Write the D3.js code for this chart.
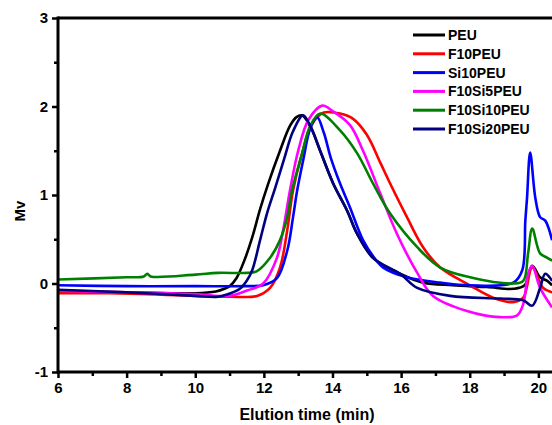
<!DOCTYPE html>
<html>
<head>
<meta charset="utf-8">
<script src="https://cdn.jsdelivr.net/npm/d3@7"></script>
<style>
  body { margin: 0; background: #fff; }
  svg { display: block; font-family: "Liberation Sans", Arial, sans-serif; }
</style>
</head>
<body>
<script>
// GPC traces as [elution time (min), Mv]
var peu = [[6,-0.09],[8,-0.1],[10,-0.11],[10.6,-0.09],[10.85,-0.06],[11.0,-0.03],[11.2,0.06],[11.45,0.28],[11.66,0.52],[11.89,0.84],[12.12,1.12],[12.47,1.5],[12.76,1.78],[12.95,1.88],[13.11,1.9],[13.35,1.78],[13.64,1.5],[14.02,1.13],[14.43,0.82],[14.72,0.56],[15.18,0.29],[15.97,0.11],[16.64,0.01],[17.5,-0.02],[18.5,-0.04],[19.27,-0.06],[19.6,-0.02],[19.82,0.2],[20.05,0.07],[20.26,0.03],[20.4,-0.02]];
var f10peu = [[6,-0.11],[7.5,-0.11],[10,-0.14],[11.01,-0.15],[11.8,-0.14],[12.18,-0.05],[12.47,0.18],[12.68,0.6],[12.85,1.05],[13.1,1.45],[13.4,1.8],[13.73,1.93],[14.22,1.92],[14.6,1.86],[15.0,1.68],[15.4,1.36],[15.68,1.13],[16.17,0.75],[16.64,0.41],[17.14,0.18],[18,-0.02],[18.68,-0.16],[19.27,-0.21],[19.56,-0.16],[19.82,0.18],[20.14,-0.05],[20.4,-0.1]];
var si10peu = [[6,-0.02],[8,-0.03],[10,-0.03],[11.5,-0.03],[11.98,-0.02],[12.38,0.06],[12.68,0.37],[12.85,0.75],[12.97,1.05],[13.15,1.4],[13.35,1.75],[13.55,1.88],[13.75,1.7],[13.95,1.42],[14.2,1.15],[14.51,0.86],[14.89,0.49],[15.2,0.3],[15.48,0.18],[16.17,0.07],[17.14,0.01],[18.01,-0.02],[19.27,0.01],[19.53,0.15],[19.62,0.71],[19.67,0.97],[19.76,1.48],[19.91,0.97],[20.05,0.75],[20.2,0.71],[20.4,0.49]];
var f10si5peu = [[6,-0.08],[8,-0.1],[10,-0.12],[11,-0.14],[11.51,-0.08],[11.98,0],[12.38,0.29],[12.56,0.6],[12.76,1.05],[13,1.5],[13.3,1.85],[13.7,2.01],[14,1.95],[14.51,1.79],[14.89,1.5],[15.39,1.02],[15.88,0.56],[16.47,0.12],[16.93,-0.14],[17.92,-0.31],[18.89,-0.38],[19.38,-0.36],[19.56,-0.23],[19.7,0.11],[19.82,0.2],[20.05,-0.05],[20.4,-0.27]];
var f10si10peu = [[6,0.045],[8,0.07],[8.5,0.08],[8.6,0.11],[8.7,0.08],[10,0.1],[10.66,0.12],[11.5,0.12],[11.8,0.14],[12.18,0.29],[12.47,0.49],[12.68,0.75],[12.82,1.05],[13.1,1.45],[13.35,1.78],[13.64,1.92],[14.22,1.73],[14.72,1.47],[15.18,1.13],[15.68,0.79],[16.47,0.41],[17.14,0.18],[18.01,0.07],[19.27,0],[19.56,0.03],[19.7,0.34],[19.82,0.62],[20.05,0.34],[20.26,0.29],[20.4,0.26]];
var f10si20peu = [[6,-0.07],[8,-0.1],[10,-0.14],[10.66,-0.15],[10.95,-0.12],[11.3,-0.06],[11.5,0.03],[11.66,0.15],[11.89,0.49],[12.09,0.79],[12.33,1.08],[12.6,1.42],[12.85,1.72],[13.14,1.9],[13.35,1.78],[13.64,1.5],[14.02,1.13],[14.43,0.82],[14.72,0.56],[15.18,0.29],[15.97,0.11],[16.47,-0.05],[17.43,-0.14],[18.89,-0.17],[19.56,-0.19],[19.82,-0.25],[20.05,-0.05],[20.2,0.11],[20.4,0.03]];

var seriesNames = ["PEU", "F10PEU", "Si10PEU", "F10Si5PEU", "F10Si10PEU", "F10Si20PEU"];
var seriesData = [peu, f10peu, si10peu, f10si5peu, f10si10peu, f10si20peu];
var seriesColors = ["#000000", "#ff0000", "#0000ff", "#ff00ff", "#008000", "#000080"];

var xTicks = [6, 8, 10, 12, 14, 16, 18, 20];
var xMinor = [7, 9, 11, 13, 15, 17, 19, 21];
var yTicks = [-1, 0, 1, 2, 3];
var yMinor = [-0.5, 0.5, 1.5, 2.5];

var width = 552, height = 425;
var svg = d3.select("body").append("svg").attr("width", width).attr("height", height);

// plot runs past the right edge of the picture, like the cropped original
var x = d3.scaleLinear().domain([6, 22]).range([58, 607]);
var y = d3.scaleLinear().domain([-1, 3]).range([372, 18]);

var line = d3.line()
  .x(function (d) { return x(d[0]); })
  .y(function (d) { return y(d[1]); })
  .curve(d3.curveCatmullRom.alpha(0.5));

svg.append("g").selectAll("path").data(seriesData).enter().append("path")
  .attr("d", line)
  .attr("fill", "none")
  .attr("stroke", function (d, i) { return seriesColors[i]; })
  .attr("stroke-width", 2.6)
  .attr("stroke-linejoin", "round");

// axes
svg.append("g").attr("transform", "translate(0," + y(-1) + ")")
  .call(d3.axisBottom(x).tickValues(xTicks).tickSize(6).tickPadding(4));
svg.append("g").attr("transform", "translate(0," + y(-1) + ")")
  .call(d3.axisBottom(x).tickValues(xMinor).tickSize(4).tickFormat(""));
svg.append("g").attr("transform", "translate(" + x(6) + ",0)")
  .call(d3.axisLeft(y).tickValues(yTicks).tickSize(6).tickPadding(4)
    .tickFormat(function (d) { return String(d); }));
svg.append("g").attr("transform", "translate(" + x(6) + ",0)")
  .call(d3.axisLeft(y).tickValues(yMinor).tickSize(4).tickFormat(""));

svg.selectAll(".domain").remove();
svg.selectAll(".tick line").attr("stroke", "#000").attr("stroke-width", 2.5);
svg.selectAll(".tick text")
  .style("font-size", "15px").style("font-weight", "bold").attr("fill", "#000")
  .style("font-family", "'Liberation Sans', Arial, sans-serif");

// frame lines
svg.append("line").attr("x1", x(6)).attr("x2", width).attr("y1", y(3)).attr("y2", y(3))
  .attr("stroke", "#000").attr("stroke-width", 3);
svg.append("line").attr("x1", x(6)).attr("x2", width).attr("y1", y(-1)).attr("y2", y(-1))
  .attr("stroke", "#000").attr("stroke-width", 3);
svg.append("line").attr("x1", x(6)).attr("x2", x(6)).attr("y1", y(3) - 1.5).attr("y2", y(-1) + 1.5)
  .attr("stroke", "#000").attr("stroke-width", 3);

// titles
svg.append("text").attr("x", 307).attr("y", 420).attr("text-anchor", "middle")
  .style("font-size", "16px").style("font-weight", "bold").text("Elution time (min)");
svg.append("text").attr("transform", "translate(25,211) rotate(-90)").attr("text-anchor", "middle")
  .style("font-size", "15px").style("font-weight", "bold").text("Mv");

// legend
var legend = svg.append("g").selectAll("g").data(seriesNames).enter().append("g")
  .attr("transform", function (d, i) { return "translate(413," + (35 + i * 18.8) + ")"; });
legend.append("line").attr("x1", 0).attr("x2", 32).attr("y1", 0).attr("y2", 0)
  .attr("stroke", function (d, i) { return seriesColors[i]; }).attr("stroke-width", 3);
legend.append("text").attr("x", 35).attr("y", 0).attr("dy", "0.36em")
  .style("font-size", "14px").style("font-weight", "bold").text(function (d) { return d; });
</script>
</body>
</html>
